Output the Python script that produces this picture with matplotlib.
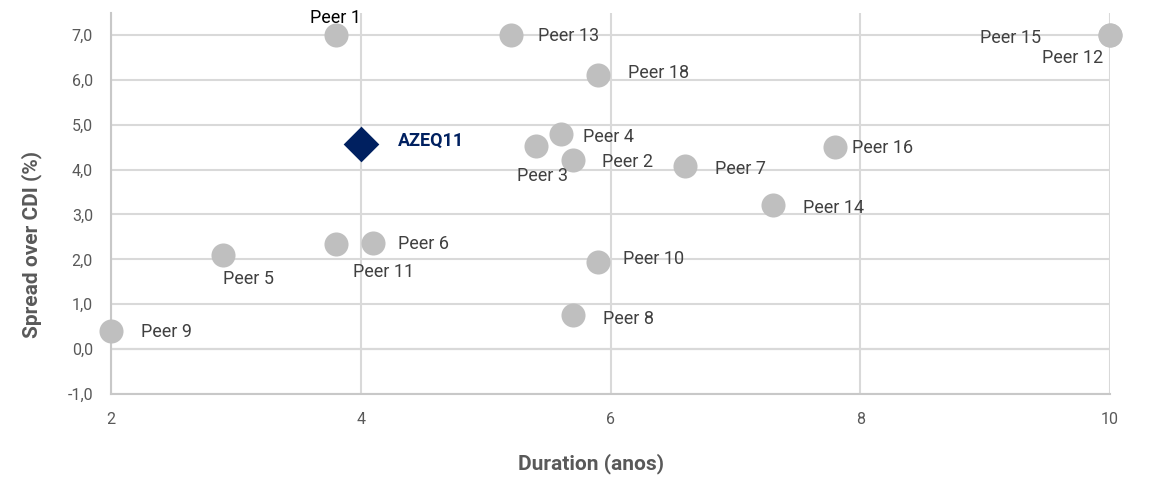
import matplotlib.pyplot as plt

plt.rcParams['font.family'] = ['Roboto', 'DejaVu Sans']

# dados: duration (anos) x spread over CDI (%)
peers = ['Peer 1', 'Peer 2', 'Peer 3', 'Peer 4', 'Peer 5', 'Peer 6', 'Peer 7',
         'Peer 8', 'Peer 9', 'Peer 10', 'Peer 11', 'Peer 12', 'Peer 13',
         'Peer 14', 'Peer 15', 'Peer 16', 'Peer 18']
duration = [3.8, 5.7, 5.4, 5.6, 2.9, 4.1, 6.6, 5.7, 2.0, 5.9, 3.8, 10.0, 5.2,
            7.3, 10.0, 7.8, 5.9]
spread = [7.0, 4.21, 4.52, 4.79, 2.09, 2.36, 4.08, 0.76, 0.40, 1.94, 2.34, 7.0,
          7.0, 3.21, 7.0, 4.5, 6.1]

fundo = 'AZEQ11'
fundo_duration = 4.0
fundo_spread = 4.57

# posicao dos rotulos (deslocamento em pixels, alinhamento)
offsets = {
    'Peer 1': (0, 17, 'center'), 'Peer 2': (29, -2, 'left'),
    'Peer 3': (7, -30, 'center'), 'Peer 4': (22, -3, 'left'),
    'Peer 5': (0, -24, 'left'), 'Peer 6': (25, -1, 'left'),
    'Peer 7': (30, -3, 'left'), 'Peer 8': (30, -4, 'left'),
    'Peer 9': (30, -1, 'left'), 'Peer 10': (25, 3, 'left'),
    'Peer 11': (48, -28, 'center'), 'Peer 12': (-37, -23, 'center'),
    'Peer 13': (27, -1, 'left'), 'Peer 14': (30, -3, 'left'),
    'Peer 15': (-69, -3, 'right'), 'Peer 16': (17, -1, 'left'),
    'Peer 18': (30, 2, 'left'),
}

fig = plt.figure(figsize=(11.7, 4.78), dpi=100)
ax = fig.add_axes([111 / 1170, 1 - 394 / 478, 999 / 1170, (394 - 12.5) / 478])

ax.scatter(duration, spread, s=300, color='#BFBFBF', zorder=3, linewidths=0,
           clip_on=False)
ax.scatter([fundo_duration], [fundo_spread], s=330, marker='D',
           color='#002060', zorder=4, linewidths=0, clip_on=False)

px = 0.72
for nome, x, y in zip(peers, duration, spread):
    dx, dy, ha = offsets[nome]
    cor = '#000000' if nome == 'Peer 1' else '#404040'
    ax.annotate(nome, (x, y), xytext=(dx * px, dy * px),
                textcoords='offset points', ha=ha, va='center',
                fontsize=13, color=cor, zorder=5)

ax.annotate(fundo, (fundo_duration, fundo_spread), xytext=(37 * px, 3 * px),
            textcoords='offset points', ha='left', va='center',
            fontsize=13, color='#002060', fontweight='bold', zorder=5)

ax.set_xlim(2, 10)
ax.set_ylim(-1, 7.5)
ax.set_xticks([2, 4, 6, 8, 10])
ax.set_yticks(range(-1, 8))
ax.set_yticklabels([f'{v:.1f}'.replace('.', ',') for v in range(-1, 8)])

ax.grid(True, color='#D9D9D9', linewidth=1.5, zorder=0)
ax.axhline(0, color='#C8C8C8', linewidth=1.5, zorder=1)
for s in ['top', 'right']:
    ax.spines[s].set_visible(False)
for s in ['left', 'bottom']:
    ax.spines[s].set_color('#C8C8C8')
    ax.spines[s].set_linewidth(1.5)

ax.tick_params(length=0, labelsize=11.5, labelcolor='#595959')
ax.tick_params(axis='y', pad=13)
ax.tick_params(axis='x', pad=13)

fig.text(591 / 1170, 1 - 464 / 478, 'Duration (anos)', ha='center', va='center',
         fontsize=15, fontweight='bold', color='#595959')
fig.text(32 / 1170, 1 - 244 / 478, 'Spread over CDI (%)', ha='center',
         va='center', rotation=90, fontsize=15, fontweight='bold',
         color='#595959')

fig.savefig('out.png', dpi=100)
